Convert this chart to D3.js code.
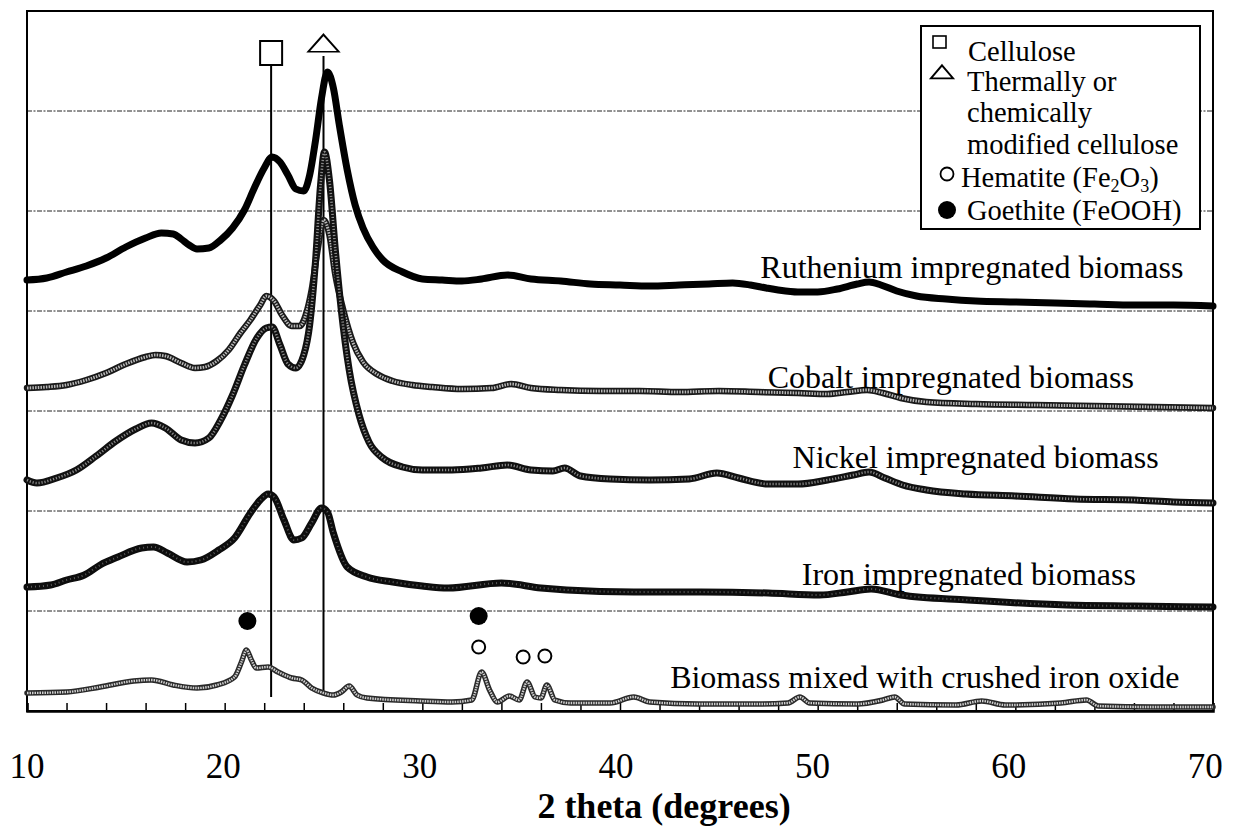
<!DOCTYPE html>
<html>
<head>
<meta charset="utf-8">
<script src="https://cdn.jsdelivr.net/npm/d3@7"></script>
<style>
  html, body { margin: 0; padding: 0; background: #fff; }
  svg { display: block; }
</style>
</head>
<body>
<svg id="chart" width="1233" height="829" font-family="'Liberation Serif', 'Times New Roman', Tinos, 'DejaVu Serif', serif"></svg>
<script>
// XRD patterns, [2θ (deg), offset intensity (a.u.)]
const ruthenium = [
  [10.0,4.31],[11.0,4.33],[12.0,4.39],[13.0,4.45],[14.0,4.53],[15.0,4.64],[16.0,4.73],[16.8,4.78],
  [17.4,4.77],[17.8,4.72],[18.2,4.66],[18.6,4.62],[19.2,4.63],[19.8,4.71],[20.4,4.83],[21.0,5.01],[21.5,5.23],
  [22.0,5.43],[22.4,5.54],[22.8,5.49],[23.2,5.36],[23.6,5.22],[24.0,5.20],[24.3,5.36],[24.6,5.71],
  [24.9,6.13],[25.2,6.39],[25.5,6.23],[25.8,5.86],[26.2,5.41],[26.6,5.06],[27.0,4.83],[27.5,4.64],
  [28.0,4.51],[29.0,4.39],[30.0,4.32],[31.0,4.31],[32.0,4.30],[33.0,4.32],[34.3,4.36],[35.5,4.32],
  [37.0,4.30],[38.5,4.27],[40.0,4.26],[41.5,4.25],[43.0,4.26],[44.5,4.27],[45.7,4.28],[46.6,4.26],[47.4,4.23],
  [48.0,4.21],[49.0,4.19],[50.0,4.19],[51.0,4.22],[52.0,4.27],[52.6,4.29],[53.2,4.26],[54.0,4.20],
  [55.0,4.15],[56.5,4.12],[58.0,4.10],[60.0,4.09],[62.0,4.08],[64.0,4.07],[66.0,4.06],[68.0,4.06],
  [70.0,4.05]
];
const cobalt = [
  [10.0,3.23],[11.0,3.24],[12.0,3.26],[13.0,3.31],[14.0,3.38],[15.0,3.47],[16.0,3.54],[16.5,3.56],
  [17.0,3.55],[17.8,3.48],[18.5,3.43],[19.0,3.44],[19.6,3.50],[20.2,3.61],[20.8,3.78],[21.3,3.91],
  [21.8,4.06],[22.1,4.15],[22.5,4.10],[22.9,3.96],[23.4,3.85],[23.8,3.85],[24.1,3.96],[24.4,4.21],
  [24.7,4.61],[25.0,4.91],[25.3,4.76],[25.6,4.36],[26.0,4.01],[26.5,3.68],[27.0,3.49],[27.7,3.37],
  [28.5,3.30],[29.5,3.26],[30.5,3.24],[32.0,3.22],[33.5,3.23],[34.5,3.27],[35.5,3.23],[37.0,3.21],
  [39.0,3.20],[41.0,3.20],[43.0,3.19],[45.0,3.20],[47.0,3.19],[49.0,3.18],[50.5,3.17],[51.5,3.19],
  [52.5,3.21],[53.3,3.18],[54.2,3.13],[55.5,3.09],[58.0,3.07],[61.0,3.06],[64.0,3.05],[67.0,3.04],
  [70.0,3.03]
];
const nickel = [
  [10.0,2.31],[10.5,2.28],[11.5,2.33],[12.5,2.41],[13.5,2.55],[14.5,2.70],[15.5,2.82],[16.3,2.88],
  [17.0,2.83],[17.8,2.71],[18.5,2.68],[19.2,2.73],[19.8,2.91],[20.4,3.16],[21.0,3.46],[21.6,3.72],
  [22.1,3.83],[22.4,3.84],[22.8,3.66],[23.2,3.47],[23.6,3.43],[24.0,3.56],[24.3,3.86],[24.6,4.51],
  [24.85,5.26],[25.05,5.59],[25.3,5.31],[25.6,4.61],[25.9,4.01],[26.3,3.41],[26.8,2.96],[27.3,2.69],
  [28.0,2.53],[29.0,2.44],[30.0,2.41],[31.5,2.41],[33.0,2.43],[34.3,2.46],[35.5,2.41],[36.6,2.40],
  [37.2,2.43],[38.0,2.35],[39.5,2.32],[41.5,2.31],[43.5,2.32],[44.9,2.38],[46.0,2.33],[47.5,2.27],
  [49.0,2.27],[50.5,2.31],[51.8,2.36],[52.6,2.39],[53.4,2.33],[54.3,2.26],[55.5,2.21],[57.5,2.17],
  [60.0,2.15],[63.0,2.12],[66.0,2.11],[68.0,2.09],[70.0,2.08]
];
const iron = [
  [10.0,1.24],[11.2,1.26],[12.0,1.31],[12.9,1.36],[13.7,1.46],[14.6,1.54],[15.8,1.63],[16.4,1.64],
  [17.1,1.58],[18.1,1.49],[18.8,1.51],[19.7,1.61],[20.5,1.73],[21.3,1.98],[21.8,2.11],[22.2,2.17],
  [22.5,2.14],[23.0,1.91],[23.5,1.71],[23.9,1.73],[24.4,1.88],[24.9,2.03],[25.2,1.99],[25.5,1.78],
  [26.2,1.44],[27.2,1.34],[28.5,1.29],[30.0,1.25],[31.3,1.23],[34.0,1.28],[36.0,1.23],[37.3,1.21],
  [40.7,1.19],[44.1,1.19],[47.5,1.18],[50.1,1.16],[51.5,1.19],[52.7,1.22],[54.2,1.16],[57.6,1.11],
  [62.6,1.06],[66.0,1.05],[70.0,1.04]
];
const biomassIronOxide = [
  [10.0,0.18],[12.0,0.19],[13.7,0.24],[15.4,0.30],[16.3,0.31],[17.4,0.26],[18.6,0.23],[19.6,0.26],
  [20.5,0.34],[20.85,0.49],[21.1,0.61],[21.35,0.51],[21.6,0.43],[22.2,0.44],[22.7,0.39],[23.4,0.33],
  [23.9,0.31],[24.4,0.23],[25.0,0.18],[25.5,0.16],[25.9,0.19],[26.3,0.25],[26.7,0.16],[27.2,0.13],
  [29.9,0.10],[31.5,0.09],[32.5,0.11],[33.0,0.39],[33.4,0.21],[33.8,0.09],[34.4,0.15],[34.9,0.11],
  [35.3,0.29],[35.7,0.14],[36.0,0.13],[36.3,0.26],[36.7,0.11],[37.5,0.08],[39.5,0.08],[40.7,0.14],
  [41.5,0.09],[44.0,0.07],[47.0,0.07],[48.5,0.08],[49.1,0.14],[49.6,0.08],[52.0,0.07],[53.3,0.11],
  [53.9,0.14],[54.4,0.07],[57.0,0.06],[58.3,0.10],[59.5,0.06],[62.3,0.08],[63.6,0.11],[64.2,0.05],
  [67.0,0.04],[70.0,0.04]
];

const seriesNames = [
  "Ruthenium impregnated biomass",
  "Cobalt impregnated biomass",
  "Nickel impregnated biomass",
  "Iron impregnated biomass",
  "Biomass mixed with crushed iron oxide"
];
const xTickLabels = [10, 20, 30, 40, 50, 60, 70];
const xMinorTicks = d3.range(10, 70.001, 2);
const gridValues = [1, 2, 3, 4, 5, 6];

// reflection positions (2θ)
const cellulosePeak = 22.35;
const modifiedCellulosePeak = 25.0;
const hematitePeaks = [32.85, 35.1, 36.2];
const goethitePeaks = [21.15, 32.85];

const legendEntries = ["Cellulose", "Thermally or", "chemically", "modified cellulose", "Hematite", "Goethite (FeOOH)"];

// ---------- layout ----------
const svg = d3.select("#chart");
const x = d3.scaleLinear().domain([10, 70]).range([27, 1213]);
const y = d3.scaleLinear().domain([0, 7]).range([711, 11]);

const styles = [
  { under: { stroke: "#000", width: 7 }, over: null },
  { under: { stroke: "#1a1a1a", width: 6.5 }, over: { stroke: "#b8b8b8", width: 3, dash: "1.5,1.2" } },
  { under: { stroke: "#111", width: 7 }, over: { stroke: "#8a8a8a", width: 2.6, dash: "1.2,1.8" } },
  { under: { stroke: "#0d0d0d", width: 7 }, over: { stroke: "#5a5a5a", width: 2, dash: "1,3" } },
  { under: { stroke: "#2a2a2a", width: 5.5 }, over: { stroke: "#cfcfcf", width: 2.4, dash: "1.5,1" } }
];
// label anchor: [2θ at text end, baseline value]
const labelPlace = [[68.5, 4.33], [66.0, 3.23], [67.25, 2.43], [66.1, 1.26], [68.3, 0.23]];

// gridlines
svg.append("g").selectAll("line").data(gridValues).join("line")
  .attr("x1", x(10)).attr("x2", x(70))
  .attr("y1", d => y(d)).attr("y2", d => y(d))
  .attr("stroke", "#222").attr("stroke-width", 1).attr("stroke-dasharray", "5,1.5,2,1.5");

// plot frame
svg.append("rect")
  .attr("x", x(10)).attr("y", y(7))
  .attr("width", x(70) - x(10)).attr("height", y(0) - y(7))
  .attr("fill", "none").attr("stroke", "#000").attr("stroke-width", 2);

// x axis with inward ticks
const xAxis = d3.axisBottom(x).tickValues(xMinorTicks).tickSize(-8).tickFormat("");
svg.append("g").attr("transform", `translate(0,${y(0)})`).call(xAxis)
  .call(g => g.select(".domain").attr("stroke-width", 2.5))
  .call(g => g.selectAll(".tick line").attr("stroke-width", 1.5));

svg.append("g").selectAll("text").data(xTickLabels).join("text")
  .attr("x", d => x(d) - (d - 10) * 0.13).attr("y", 778)
  .attr("text-anchor", "middle").attr("font-size", 35)
  .text(d => d);

svg.append("text")
  .attr("x", x(40) + 44).attr("y", 818)
  .attr("text-anchor", "middle").attr("font-size", 36).attr("font-weight", "bold")
  .text("2 theta (degrees)");

// reference lines for cellulose reflections
const refs = [
  { pos: cellulosePeak, top: 6.45, bottom: 0.14 },
  { pos: modifiedCellulosePeak, top: 6.55, bottom: 0.19 }
];
svg.append("g").selectAll("line").data(refs).join("line")
  .attr("x1", d => x(d.pos)).attr("x2", d => x(d.pos))
  .attr("y1", d => y(d.top)).attr("y2", d => y(d.bottom))
  .attr("stroke", "#000").attr("stroke-width", 2);

// patterns
const line = d3.line().x(d => x(d[0])).y(d => y(d[1])).curve(d3.curveMonotoneX);
const allSeries = [ruthenium, cobalt, nickel, iron, biomassIronOxide];
const gSeries = svg.append("g").attr("fill", "none").attr("stroke-linejoin", "round").attr("stroke-linecap", "round");
allSeries.forEach((s, i) => {
  const st = styles[i];
  gSeries.append("path").attr("d", line(s))
    .attr("stroke", st.under.stroke).attr("stroke-width", st.under.width);
  if (st.over) {
    gSeries.append("path").attr("d", line(s))
      .attr("stroke", st.over.stroke).attr("stroke-width", st.over.width)
      .attr("stroke-dasharray", st.over.dash).attr("stroke-linecap", "butt");
  }
});

// series labels
svg.append("g").selectAll("text").data(seriesNames).join("text")
  .attr("x", (d, i) => x(labelPlace[i][0])).attr("y", (d, i) => y(labelPlace[i][1]))
  .attr("text-anchor", "end").attr("font-size", 32)
  .text(d => d);

// phase markers above the cellulose reference lines
svg.append("rect")
  .attr("x", x(cellulosePeak) - 11).attr("y", y(6.7))
  .attr("width", 22).attr("height", 24)
  .attr("fill", "#fff").attr("stroke", "#000").attr("stroke-width", 2);
const tri = d3.symbol().type(d3.symbolTriangle).size(190);
svg.append("path").attr("d", tri())
  .attr("transform", `translate(${x(modifiedCellulosePeak)},${y(6.65)}) scale(1.45,0.95)`)
  .attr("fill", "#fff").attr("stroke", "#000").attr("stroke-width", 1.6);

// iron oxide phase markers
const goethiteY = [0.9, 0.95];
svg.append("g").selectAll("circle").data(goethitePeaks).join("circle")
  .attr("cx", d => x(d)).attr("cy", (d, i) => y(goethiteY[i]))
  .attr("r", 9).attr("fill", "#000");
const hematiteY = [0.64, 0.54, 0.55];
svg.append("g").selectAll("circle").data(hematitePeaks).join("circle")
  .attr("cx", d => x(d)).attr("cy", (d, i) => y(hematiteY[i]))
  .attr("r", 6.5).attr("fill", "#fff").attr("stroke", "#000").attr("stroke-width", 2);

// legend
const lg = svg.append("g").attr("transform", "translate(921,26)");
lg.append("rect").attr("width", 279).attr("height", 203)
  .attr("fill", "#fff").attr("stroke", "#000").attr("stroke-width", 2);
lg.append("rect").attr("x", 12).attr("y", 10).attr("width", 13).attr("height", 12)
  .attr("fill", "#fff").attr("stroke", "#000").attr("stroke-width", 1.6);
lg.append("path").attr("d", d3.symbol().type(d3.symbolTriangle).size(110)())
  .attr("transform", "translate(21,48) scale(1.4,0.95)")
  .attr("fill", "#fff").attr("stroke", "#000").attr("stroke-width", 1.6);
lg.append("circle").attr("cx", 26).attr("cy", 148).attr("r", 6.5)
  .attr("fill", "#fff").attr("stroke", "#000").attr("stroke-width", 1.8);
lg.append("circle").attr("cx", 26).attr("cy", 184).attr("r", 9).attr("fill", "#000");

const legendY = [35, 65, 96, 128, 161, 194];
const legendX = [47, 46, 46, 46, 40, 46];
legendEntries.forEach((t, i) => {
  const tx = lg.append("text").attr("x", legendX[i]).attr("y", legendY[i]).attr("font-size", 28.5);
  if (t === "Hematite") {
    tx.append("tspan").text("Hematite (Fe");
    tx.append("tspan").attr("font-size", 18).attr("dy", 5).text("2");
    tx.append("tspan").attr("dy", -5).text("O");
    tx.append("tspan").attr("font-size", 18).attr("dy", 5).text("3");
    tx.append("tspan").attr("dy", -5).text(")");
  } else {
    tx.text(t);
  }
});
</script>
</body>
</html>
